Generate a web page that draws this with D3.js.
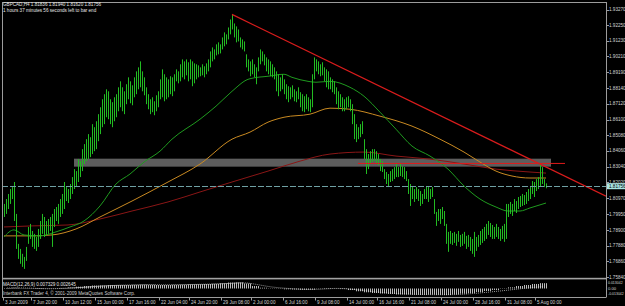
<!DOCTYPE html>
<html><head><meta charset="utf-8">
<script src="https://cdn.jsdelivr.net/npm/d3@7"></script>
<style>html,body{margin:0;padding:0;background:#000;overflow:hidden}</style>
</head><body>
<svg id="c" width="625" height="306"></svg>
<script>
// ---------- data ----------
const symbolTitle = "GBPCAD,H4 1.81836 1.81940 1.81620 1.81756";
const timerText = "1 hours 37 minutes 56 seconds left to bar end";
const macdTitle = "MACD(12,26,9) 0.007329 0.002645";
const footerText = "Interbank FX Trader 4, \u00a9 2001-2009 MetaQuotes Software Corp.";

const highs = [
1.8060,1.8092,1.8125,1.8157,1.8170,1.8203,1.7995,1.7800,1.7767,1.7735,
1.7715,1.7780,1.7910,1.7930,1.7884,1.7865,1.7845,1.7897,1.7949,1.7995,
1.7975,1.7949,1.7962,1.7975,1.7995,1.8027,1.8040,1.8060,1.8092,1.8125,
1.8203,1.8170,1.8157,1.8190,1.8235,1.8287,1.8274,1.8352,1.8339,1.8417,
1.8450,1.8482,1.8515,1.8495,1.8580,1.8560,1.8599,1.8645,1.8690,1.8742,
1.8775,1.8807,1.8794,1.8742,1.8723,1.8755,1.8775,1.8820,1.8859,1.8820,
1.8794,1.8840,1.8885,1.8859,1.8833,1.8885,1.8924,1.8950,1.8989,1.8924,
1.8885,1.8820,1.8775,1.8742,1.8755,1.8729,1.8768,1.8794,1.8872,1.8937,
1.8905,1.8885,1.8872,1.8892,1.8885,1.8905,1.8937,1.8924,1.8970,1.9002,
1.8989,1.9002,1.8983,1.9002,1.8989,1.8976,1.8970,1.8963,1.8950,1.8970,
1.8957,1.8976,1.9002,1.9054,1.9080,1.9067,1.9100,1.9113,1.9100,1.9145,
1.9178,1.9165,1.9210,1.9262,1.9295,1.9236,1.9217,1.9197,1.9145,1.9132,
1.9119,1.9035,1.9002,1.8989,1.9002,1.8970,1.8950,1.9015,1.9067,1.9054,
1.9035,1.9015,1.9002,1.8989,1.8970,1.8950,1.8924,1.8905,1.8885,1.8905,
1.8872,1.8840,1.8827,1.8820,1.8833,1.8807,1.8794,1.8820,1.8788,1.8775,
1.8762,1.8775,1.8755,1.8742,1.8905,1.9015,1.9002,1.8989,1.8970,1.8983,
1.8950,1.8937,1.8924,1.8885,1.8872,1.8859,1.8820,1.8794,1.8775,1.8755,
1.8742,1.8755,1.8762,1.8742,1.8710,1.8645,1.8580,1.8560,1.8580,1.8599,
1.8482,1.8417,1.8385,1.8404,1.8417,1.8417,1.8404,1.8385,1.8352,1.8339,
1.8287,1.8268,1.8255,1.8274,1.8287,1.8300,1.8320,1.8300,1.8320,1.8307,
1.8300,1.8274,1.8222,1.8190,1.8170,1.8157,1.8170,1.8157,1.8144,1.8125,
1.8157,1.8177,1.8170,1.8157,1.8170,1.8092,1.8008,1.8027,1.8027,1.8040,
1.8014,1.7930,1.7878,1.7884,1.7871,1.7878,1.7865,1.7884,1.7858,1.7865,
1.7878,1.7852,1.7858,1.7845,1.7832,1.7878,1.7845,1.7858,1.7884,1.7897,
1.7910,1.7930,1.7949,1.7936,1.7923,1.7910,1.7930,1.7910,1.7897,1.7917,
1.7930,1.8060,1.8060,1.8073,1.8060,1.8092,1.8079,1.8105,1.8112,1.8125,
1.8118,1.8138,1.8157,1.8170,1.8209,1.8203,1.8222,1.8235,1.8320,1.8300,
1.8222,1.8194];

const lows = [
1.7975,1.7995,1.8027,1.8060,1.8092,1.7949,1.7767,1.7702,1.7670,1.7650,
1.7637,1.7689,1.7800,1.7832,1.7780,1.7767,1.7754,1.7780,1.7832,1.7865,
1.7845,1.7858,1.7865,1.7884,1.7780,1.7910,1.7949,1.7930,1.7975,1.7995,
1.8027,1.8079,1.8066,1.8092,1.8125,1.8157,1.8170,1.8203,1.8235,1.8274,
1.8320,1.8339,1.8352,1.8365,1.8385,1.8404,1.8417,1.8469,1.8515,1.8560,
1.8580,1.8625,1.8612,1.8580,1.8560,1.8599,1.8625,1.8664,1.8690,1.8664,
1.8645,1.8710,1.8742,1.8716,1.8703,1.8755,1.8775,1.8807,1.8820,1.8794,
1.8768,1.8710,1.8677,1.8645,1.8658,1.8638,1.8664,1.8690,1.8742,1.8755,
1.8729,1.8742,1.8755,1.8775,1.8762,1.8794,1.8859,1.8846,1.8859,1.8885,
1.8872,1.8898,1.8859,1.8872,1.8827,1.8846,1.8872,1.8885,1.8892,1.8898,
1.8885,1.8905,1.8924,1.8950,1.8989,1.9002,1.9028,1.9035,1.9041,1.9067,
1.9087,1.9100,1.9132,1.9165,1.9197,1.9145,1.9113,1.9119,1.9080,1.9067,
1.9054,1.8950,1.8924,1.8892,1.8905,1.8885,1.8840,1.8924,1.8970,1.8989,
1.8963,1.8924,1.8905,1.8892,1.8885,1.8872,1.8794,1.8762,1.8794,1.8807,
1.8775,1.8742,1.8723,1.8742,1.8755,1.8729,1.8723,1.8742,1.8690,1.8664,
1.8658,1.8677,1.8664,1.8658,1.8690,1.8872,1.8924,1.8905,1.8892,1.8898,
1.8859,1.8820,1.8807,1.8807,1.8788,1.8775,1.8710,1.8677,1.8690,1.8664,
1.8664,1.8677,1.8690,1.8664,1.8580,1.8482,1.8463,1.8482,1.8495,1.8515,
1.8352,1.8255,1.8287,1.8320,1.8333,1.8339,1.8320,1.8313,1.8274,1.8268,
1.8222,1.8190,1.8170,1.8203,1.8209,1.8222,1.8235,1.8235,1.8242,1.8235,
1.8222,1.8209,1.8125,1.8047,1.8092,1.8073,1.8092,1.8079,1.8047,1.8060,
1.8092,1.8092,1.8073,1.8092,1.8105,1.7995,1.7917,1.7949,1.7930,1.7962,
1.7917,1.7800,1.7748,1.7800,1.7793,1.7806,1.7787,1.7813,1.7780,1.7787,
1.7800,1.7767,1.7780,1.7754,1.7735,1.7715,1.7754,1.7780,1.7793,1.7806,
1.7819,1.7832,1.7858,1.7845,1.7832,1.7832,1.7845,1.7832,1.7819,1.7832,
1.7813,1.7832,1.7975,1.7995,1.7982,1.8014,1.8001,1.8027,1.8040,1.8047,
1.8053,1.8060,1.8079,1.8092,1.8125,1.8105,1.8144,1.8157,1.8177,1.8190,
1.8170,1.8162];

const lastClose = 1.81756;

const maGreenBars = [0,5,10,18,26,33,40,48,56,63,70,78,84,98,106,114,122,124,132,140,144,152,156,163,173,180,188,196,204,213,222,230,238,246,252,258,263,271];
const maGreen     = [1.7845,1.7891,1.7858,1.7852,1.7878,1.7910,1.7949,1.8047,1.8190,1.8255,1.8333,1.8404,1.8482,1.8612,1.8697,1.8794,1.8872,1.8879,1.8892,1.8905,1.8885,1.8859,1.8853,1.8859,1.8820,1.8762,1.8658,1.8547,1.8437,1.8372,1.8287,1.8177,1.8092,1.8040,1.8014,1.8014,1.8034,1.8066];

const maOrangeBars = [0,14,24,36,48,64,82,98,114,123,132,140,153,163,173,188,204,218,230,238,246,254,263,271];
const maOrange     = [1.7852,1.7852,1.7858,1.7897,1.7975,1.8079,1.8203,1.8320,1.8482,1.8528,1.8593,1.8625,1.8645,1.8684,1.8677,1.8632,1.8567,1.8482,1.8398,1.8333,1.8274,1.8242,1.8229,1.8229];

const maRedBars = [0,14,32,48,64,82,98,114,132,148,163,180,196,213,230,246,263,271];
const maRed     = [1.7910,1.7917,1.7923,1.7962,1.8014,1.8073,1.8138,1.8203,1.8274,1.8339,1.8385,1.8398,1.8372,1.8352,1.8320,1.8287,1.8268,1.8261];

const priceTicks = [1.93270,1.92250,1.91230,1.90210,1.89190,1.88140,1.87120,1.86100,1.85080,1.84060,1.83040,1.82020,1.80970,1.79950,1.78900,1.77880,1.76860,1.75840];

const dateTickBars = [0,14,30,46,62,78,93,109,124,140,156,172,187,203,219,235,251,266];
const dateTickLabels = ["3 Jun 2009","7 Jun 20:00","10 Jun 12:00","15 Jun 00:00","17 Jun 16:00","22 Jun 04:00","24 Jun 20:00","29 Jun 08:00","2 Jul 00:00","6 Jul 16:00","9 Jul 08:00","14 Jul 00:00","16 Jul 16:00","21 Jul 08:00","24 Jul 00:00","28 Jul 16:00","31 Jul 08:00","5 Aug 00:00"];

const macdBarsPerSample = 4;
const macdHist = [0.0007,0.0011,0.0004,-0.0004,-0.0007,-0.0004,0.0003,0.0008,0.0016,0.0025,
0.0034,0.0041,0.0044,0.0048,0.0049,0.0049,0.0052,0.0055,0.0052,0.0048,
0.0049,0.0052,0.0055,0.0059,0.0060,0.0062,0.0066,0.0073,0.0082,0.0085,
0.0069,0.0034,0.0011,0.0004,-0.0004,-0.0011,-0.0014,-0.0018,-0.0016,-0.0004,
0.0007,0.0004,-0.0008,-0.0021,-0.0038,-0.0052,-0.0062,-0.0069,-0.0075,-0.0082,
-0.0082,-0.0085,-0.0086,-0.0082,-0.0086,-0.0089,-0.0079,-0.0071,-0.0062,-0.0049,
-0.0034,-0.0021,-0.0005,0.0016,0.0034,0.0048,0.0062,0.0073];
const macdSignal = [0.0005,0.0007,0.0007,0.0004,0.0000,-0.0003,-0.0002,0.0002,0.0007,0.0013,
0.0020,0.0028,0.0035,0.0040,0.0044,0.0047,0.0049,0.0051,0.0052,0.0051,
0.0050,0.0051,0.0052,0.0055,0.0057,0.0059,0.0062,0.0066,0.0071,0.0077,
0.0076,0.0060,0.0040,0.0022,0.0010,0.0002,-0.0006,-0.0012,-0.0014,-0.0011,
-0.0004,0.0001,0.0000,-0.0010,-0.0020,-0.0033,-0.0045,-0.0055,-0.0063,-0.0070,
-0.0076,-0.0080,-0.0083,-0.0084,-0.0085,-0.0086,-0.0083,-0.0078,-0.0071,-0.0062,
-0.0052,-0.0041,-0.0030,-0.0018,-0.0006,0.0006,0.0016,0.0026];
const macdTicks = [0.013042, 0, -0.013042];
const macdTickLabels = ["0.013042","0.00","-0.013042"];

const zoneBars = [35, 273.5];
const zonePrices = [1.8355, 1.8303];
const levelBars = [177, 280.5];
const levelPrice = 1.8324;
const trendBars = [114, 268];
const trendPrices = [1.9295, 1.8320];

// ---------- drawing ----------
(function () {
const font = '"Liberation Sans", Arial, sans-serif';
const fs = 4.6;
const svg = d3.select('#c');
svg.append('rect').attr('width',625).attr('height',306).attr('fill','#000');

const L = 2, R = 606, T = 2, mainBottom = 278, subTop = 279.5, subBottom = 297;
const x = d3.scaleLinear().domain([0, highs.length - 1]).range([4, 546]);
const y = d3.scaleLinear().domain([1.7584, 1.9327]).range([277, 9.5]);
const yM = d3.scaleLinear().domain([-0.013042, 0.013042]).range([298, 279]);

const defs = svg.append('defs');
defs.append('clipPath').attr('id','cm').append('rect')
  .attr('x',L).attr('y',T).attr('width',R-L).attr('height',mainBottom-T);
defs.append('clipPath').attr('id','cs').append('rect')
  .attr('x',L).attr('y',subTop).attr('width',R-L).attr('height',subBottom-subTop);
const pat = defs.append('pattern').attr('id','stripe').attr('patternUnits','userSpaceOnUse')
  .attr('width',2).attr('height',4);
pat.append('rect').attr('x',0).attr('y',0).attr('width',1).attr('height',4).attr('fill','#bcbcbc');

const main = svg.append('g').attr('clip-path','url(#cm)');

main.append('rect')
  .attr('x', x(zoneBars[0])).attr('y', y(zonePrices[0]))
  .attr('width', x(zoneBars[1]) - x(zoneBars[0]))
  .attr('height', y(zonePrices[1]) - y(zonePrices[0]))
  .attr('fill', '#5d5d5d');

function ma(bars, vals, color) {
  const pts = bars.map((b, i) => [b, vals[i]]);
  main.append('path').datum(pts)
    .attr('d', d3.line().x(d => x(d[0])).y(d => y(d[1])).curve(d3.curveMonotoneX))
    .attr('fill','none').attr('stroke', color).attr('stroke-width', 1);
}
ma(maRedBars, maRed, '#8a1616');
ma(maOrangeBars, maOrange, '#c98a22');
ma(maGreenBars, maGreen, '#1f9a1f');

main.append('g').selectAll('line').data(highs).join('line')
  .attr('x1', (d, i) => Math.round(x(i)) + 0.5)
  .attr('x2', (d, i) => Math.round(x(i)) + 0.5)
  .attr('y1', d => y(d))
  .attr('y2', (d, i) => y(lows[i]))
  .attr('stroke', '#22bb22').attr('stroke-width', 1);

main.append('line')
  .attr('x1', x(levelBars[0])).attr('x2', x(levelBars[1]))
  .attr('y1', y(levelPrice)).attr('y2', y(levelPrice))
  .attr('stroke', '#e01a1a').attr('stroke-width', 1);

const slope = (trendPrices[1] - trendPrices[0]) / (trendBars[1] - trendBars[0]);
const endBar = x.invert(R);
main.append('line')
  .attr('x1', x(trendBars[0])).attr('y1', y(trendPrices[0]))
  .attr('x2', x(endBar)).attr('y2', y(trendPrices[0] + slope * (endBar - trendBars[0])))
  .attr('stroke', '#d91c1c').attr('stroke-width', 1.2);

main.append('line')
  .attr('x1', L).attr('x2', R)
  .attr('y1', Math.round(y(lastClose)) + 0.5).attr('y2', Math.round(y(lastClose)) + 0.5)
  .attr('stroke', '#6fa0a4').attr('stroke-width', 1).attr('stroke-dasharray', '6,2');

const sub = svg.append('g').attr('clip-path','url(#cs)');
sub.append('g').selectAll('rect').data(macdHist).join('rect')
  .attr('x', (d, k) => Math.round(x(k * macdBarsPerSample)))
  .attr('width', (d, k) => x(macdBarsPerSample) - x(0))
  .attr('y', d => Math.min(yM(d), yM(0)))
  .attr('height', d => Math.abs(yM(d) - yM(0)))
  .attr('fill', 'url(#stripe)');
sub.append('path').datum(macdSignal)
  .attr('d', d3.line().x((d, k) => x(k * macdBarsPerSample + 1.5)).y(d => yM(d)))
  .attr('fill','none').attr('stroke','#d8d8d8').attr('stroke-width',0.7).attr('stroke-dasharray','1,1');

const frame = svg.append('g').attr('stroke','#9c9c9c').attr('stroke-width',1).attr('fill','none');
frame.append('line').attr('x1',L).attr('x2',R).attr('y1',T+0.5).attr('y2',T+0.5);
frame.append('line').attr('x1',L+0.5).attr('x2',L+0.5).attr('y1',T).attr('y2',subBottom);
frame.append('line').attr('x1',R+0.5).attr('x2',R+0.5).attr('y1',T).attr('y2',subBottom+0.5);
frame.append('line').attr('x1',L).attr('x2',R).attr('y1',subBottom+0.5).attr('y2',subBottom+0.5);
svg.append('rect').attr('x',L).attr('y',mainBottom-0.2).attr('width',R-L+1).attr('height',1.6).attr('fill','#a2a2a2');

const pa = svg.append('g');
pa.selectAll('line').data(priceTicks).join('line')
  .attr('x1', R+1).attr('x2', R+3)
  .attr('y1', d => Math.round(y(d))+0.5).attr('y2', d => Math.round(y(d))+0.5)
  .attr('stroke','#9c9c9c');
pa.selectAll('text').data(priceTicks).join('text')
  .attr('x', R + 3).attr('y', d => y(d)).attr('dy','0.35em')
  .attr('font-family', font).attr('font-size', fs).attr('fill','#d4d4d4')
  .text(d => d.toFixed(5));

svg.append('rect').attr('x', R + 1).attr('y', y(lastClose) - 3).attr('width', 19).attr('height', 6)
  .attr('fill', '#a8e4e4');
svg.append('text').attr('x', R + 3).attr('y', y(lastClose)).attr('dy','0.35em')
  .attr('font-family', font).attr('font-size', fs).attr('fill','#000')
  .text(lastClose.toFixed(5));

const mAx = svg.append('g');
const macdOff = [4, 0, -4.5];
mAx.selectAll('text').data(macdTicks).join('text')
  .attr('x', R + 2).attr('y', (d, i) => yM(d) + macdOff[i]).attr('dy','0.35em')
  .attr('font-family', font)
  .attr('font-size', (d, i) => macdTickLabels[i].length > 6 ? 3.5 : 4.2)
  .attr('fill','#d4d4d4')
  .text((d, i) => macdTickLabels[i]);

const da = svg.append('g');
da.selectAll('line').data(dateTickBars).join('line')
  .attr('x1', d => Math.round(x(d)) - 0.5).attr('x2', d => Math.round(x(d)) - 0.5)
  .attr('y1', subBottom + 1).attr('y2', subBottom + 3.5)
  .attr('stroke', '#9c9c9c');
da.selectAll('text').data(dateTickBars).join('text')
  .attr('x', d => x(d) + 1).attr('y', 303.8)
  .attr('font-family', font).attr('font-size', fs).attr('fill','#d4d4d4')
  .text((d, i) => dateTickLabels[i]);

const t = svg.append('g').attr('font-family', font).attr('font-size', fs).attr('fill', '#e6e6e6');
t.append('text').attr('x', 3).attr('y', 6.2).text(symbolTitle);
t.append('text').attr('x', 3).attr('y', 12).text(timerText);
t.append('text').attr('x', 3).attr('y', 285.8).text(macdTitle);
t.append('text').attr('x', 3).attr('y', 295).attr('fill','#cfcfcf').text(footerText);
})();
</script>
</body></html>
